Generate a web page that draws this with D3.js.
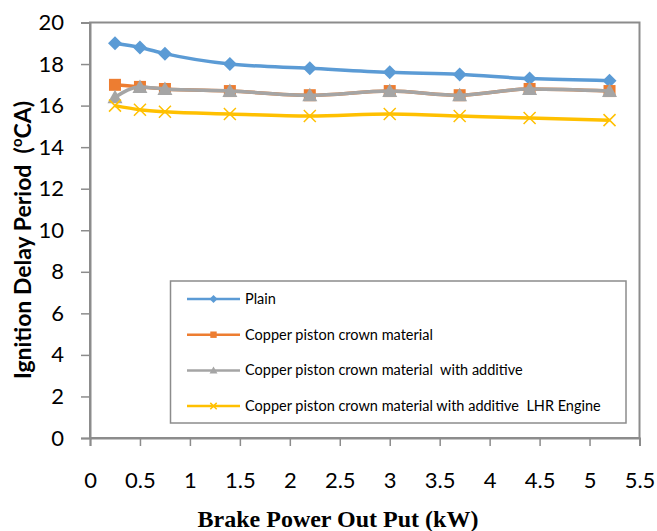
<!DOCTYPE html>
<html><head><meta charset="utf-8">
<script src="https://cdn.jsdelivr.net/npm/d3@7"></script>
<style>body{margin:0;background:#fff}svg{display:block}text{white-space:pre}</style>
</head><body><svg id="c" width="657" height="531"></svg>
<script>
const power = [0.25, 0.5, 0.75, 1.4, 2.2, 3.0, 3.7, 4.4, 5.2];
const plain = [19.0, 18.8, 18.5, 18.0, 17.8, 17.6, 17.5, 17.3, 17.2];
const copper = [17.0, 16.9, 16.8, 16.7, 16.5, 16.7, 16.5, 16.8, 16.7];
const copperAdd = [16.4, 16.9, 16.8, 16.7, 16.5, 16.7, 16.5, 16.8, 16.7];
const copperAddLHR = [16.0, 15.8, 15.7, 15.6, 15.5, 15.6, 15.5, 15.4, 15.3];
const seriesNames = ["Plain", "Copper piston crown material", "Copper piston crown material  with additive", "Copper piston crown material with additive  LHR Engine"];
const xTicks = [0, 0.5, 1, 1.5, 2, 2.5, 3, 3.5, 4, 4.5, 5, 5.5];
const yTicks = [0, 2, 4, 6, 8, 10, 12, 14, 16, 18, 20];

const series = [
  {name: seriesNames[0], values: plain, color: "#5B9BD5", sym: "diamond"},
  {name: seriesNames[1], values: copper, color: "#ED7D31", sym: "square"},
  {name: seriesNames[2], values: copperAdd, color: "#A5A5A5", sym: "triangle"},
  {name: seriesNames[3], values: copperAddLHR, color: "#FFC000", sym: "x"}
];

const svg = d3.select("#c");
const L = 90, R = 639.5, T = 22.5, B = 438;
const x = d3.scaleLinear().domain([0, 5.5]).range([L, R]);
const y = d3.scaleLinear().domain([0, 20]).range([B, T]);
const tickFont = "Lato, 'Open Sans', sans-serif";

// plot frame
svg.append("rect").attr("x", L).attr("y", T).attr("width", R - L).attr("height", B - T)
  .attr("fill", "none").attr("stroke", "#8c8c8c").attr("stroke-width", 2);

// axes
const yAxis = svg.append("g").attr("transform", `translate(${L},0)`)
  .call(d3.axisLeft(y).tickValues(yTicks).tickSize(9).tickPadding(17).tickFormat(d3.format("d")));
const xAxis = svg.append("g").attr("transform", `translate(0,${B})`)
  .call(d3.axisBottom(x).tickValues(xTicks).tickSize(8).tickPadding(26).tickFormat(d => String(d)));
[yAxis, xAxis].forEach(g => {
  g.select(".domain").attr("stroke", "#8c8c8c").attr("stroke-width", 2);
  g.selectAll(".tick line").attr("stroke", "#8c8c8c").attr("stroke-width", 1.5);
  g.selectAll("text").attr("fill", "#000").style("font-family", tickFont).style("font-size", "22px");
});

// axis titles
svg.append("text").attr("x", 338).attr("y", 527).attr("text-anchor", "middle")
  .style("font-family", "'Liberation Serif', 'Times New Roman', serif").style("font-weight", "bold")
  .style("font-size", "24px").text("Brake Power Out Put (kW)");
const yt = svg.append("text").attr("transform", `translate(31,240) rotate(-90)`)
  .attr("text-anchor", "middle").style("font-family", tickFont).style("font-weight", "bold").style("font-size", "23px");
yt.append("tspan").text("Ignition Delay Period  (");
yt.append("tspan").attr("dy", -9).style("font-size", "15px").text("o");
yt.append("tspan").attr("dy", 9).text("CA)");

// symbols
function drawSym(g, sym, color, s) {
  if (sym === "diamond") {
    g.append("path").attr("d", `M0,${-s}L${s},0L0,${s}L${-s},0Z`).attr("fill", color);
  } else if (sym === "square") {
    g.append("rect").attr("x", -s * 0.8).attr("y", -s * 0.8).attr("width", s * 1.6).attr("height", s * 1.6).attr("fill", color);
  } else if (sym === "triangle") {
    g.append("path").attr("d", `M0,${-s}L${s},${s * 0.8}L${-s},${s * 0.8}Z`).attr("fill", color);
  } else {
    g.append("path").attr("d", `M${-s * 0.8},${-s * 0.8}L${s * 0.8},${s * 0.8}M${-s * 0.8},${s * 0.8}L${s * 0.8},${-s * 0.8}`)
      .attr("stroke", color).attr("stroke-width", 1.5).attr("fill", "none");
  }
}

const line = d3.line().x((d, i) => x(power[i])).y(d => y(d)).curve(d3.curveMonotoneX);
series.forEach(s => {
  svg.append("path").datum(s.values).attr("d", line).attr("fill", "none")
    .attr("stroke", s.color).attr("stroke-width", 3.5);
  s.values.forEach((v, i) => {
    const g = svg.append("g").attr("transform", `translate(${x(power[i])},${y(v)})`);
    drawSym(g, s.sym, s.color, s.sym === "diamond" ? 7 : 7.5);
  });
});

// legend
const lg = svg.append("g");
lg.append("rect").attr("x", 170.5).attr("y", 281).attr("width", 455.5).attr("height", 142)
  .attr("fill", "#fff").attr("stroke", "#8c8c8c").attr("stroke-width", 1.5);
series.forEach((s, i) => {
  const cy = 299 + i * 35.7;
  lg.append("line").attr("x1", 187).attr("x2", 240).attr("y1", cy).attr("y2", cy)
    .attr("stroke", s.color).attr("stroke-width", 2.5);
  const g = lg.append("g").attr("transform", `translate(213.5,${cy})`);
  drawSym(g, s.sym, s.color, 4);
  lg.append("text").attr("x", 245).attr("y", cy + 5).style("font-family", tickFont)
    .style("font-size", "14.5px").attr("fill", "#000").text(s.name);
});
</script></body></html>
